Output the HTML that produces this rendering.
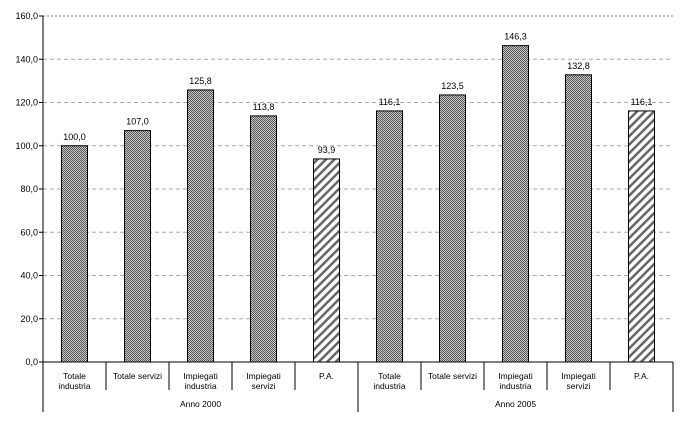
<!DOCTYPE html>
<html><head><meta charset="utf-8"><style>
body{margin:0;background:#fff;}
svg{display:block;font-family:"Liberation Sans",Arial,sans-serif;}
</style></head><body>
<svg id="chart" width="684" height="425">
<defs>
<pattern id="dots" width="2" height="2" patternUnits="userSpaceOnUse">
<rect width="2" height="2" fill="#c8c8c8"/><rect width="1" height="1" fill="#555"/><rect x="1" y="1" width="1" height="1" fill="#555"/>
</pattern>
<pattern id="hatch" width="6" height="6" patternUnits="userSpaceOnUse" patternTransform="rotate(45)">
<rect width="6" height="6" fill="#fff"/><rect width="2.5" height="6" fill="#666"/>
</pattern>
</defs>
<g id="grid"></g><g id="bars"></g><g id="axes"></g>
</svg>
<script>
const categories=["Totale|industria","Totale servizi","Impiegati|industria","Impiegati|servizi","P.A.","Totale|industria","Totale servizi","Impiegati|industria","Impiegati|servizi","P.A."];
const values=[100.0,107.0,125.8,113.8,93.9,116.1,123.5,146.3,132.8,116.1];
const hatched=[false,false,false,false,true,false,false,false,false,true];
const groups=["Anno 2000","Anno 2005"];
const ticks=[0,20,40,60,80,100,120,140,160];
const NS="http://www.w3.org/2000/svg";
const X0=43,X1=673,Y0=362,YT=16,YMAX=160;
const cw=(X1-X0)/categories.length;
const y=v=>Y0-(v/YMAX)*(Y0-YT);
const fmt=v=>v.toFixed(1).replace('.',',');
function mk(tag,attrs,parent,text){const e=document.createElementNS(NS,tag);for(const k in attrs)e.setAttribute(k,attrs[k]);if(text!==undefined)e.textContent=text;parent.appendChild(e);return e;}
const grid=document.getElementById('grid'),bars=document.getElementById('bars'),axes=document.getElementById('axes');
ticks.forEach(t=>{
  const l=mk('line',{x1:X0,x2:X1,y1:y(t),y2:y(t),stroke:t===YMAX?'#777':'#aaa','stroke-dasharray':t===YMAX?'2,2':'4,3'},grid);
  
  
  const tl=mk('text',{x:X0-5,y:y(t)+3,'text-anchor':'end','font-size':9},axes,fmt(t));
  
  
  mk('line',{x1:X0-4,x2:X0,y1:y(t),y2:y(t),stroke:'#000'},axes);
});
values.forEach((v,i)=>{
  const cx=X0+cw*(i+0.5),bw=26;
  const r=mk('rect',{x:cx-bw/2,y:y(v),width:bw,height:Y0-y(v),fill:hatched[i]?'url(#hatch)':'url(#dots)',stroke:'#000','stroke-width':1},bars);
  
  
  const lb=mk('text',{x:cx,y:y(v)-6,'text-anchor':'middle','font-size':9},bars,fmt(v));
  
  
  const parts=categories[i].split('|');
  parts.forEach((p,j)=>{
    const ct=mk('text',{x:cx,y:379+j*10,'text-anchor':'middle','font-size':8.5},axes,p);
    
    
  });
  if(i>0){mk('line',{x1:X0+cw*i,x2:X0+cw*i,y1:Y0,y2:(i%5===0)?412:390,stroke:'#000'},axes);}
});
groups.forEach((g,k)=>{
  const gt=mk('text',{x:X0+cw*5*(k+0.5),y:407,'text-anchor':'middle','font-size':8.5},axes,g);
  
  
});
mk('line',{x1:X0,x2:X0,y1:YT,y2:412,stroke:'#000'},axes);
mk('line',{x1:X1,x2:X1,y1:Y0,y2:412,stroke:'#000'},axes);
mk('line',{x1:X0,x2:X1,y1:Y0,y2:Y0,stroke:'#000'},axes);
</script>
</body></html>
